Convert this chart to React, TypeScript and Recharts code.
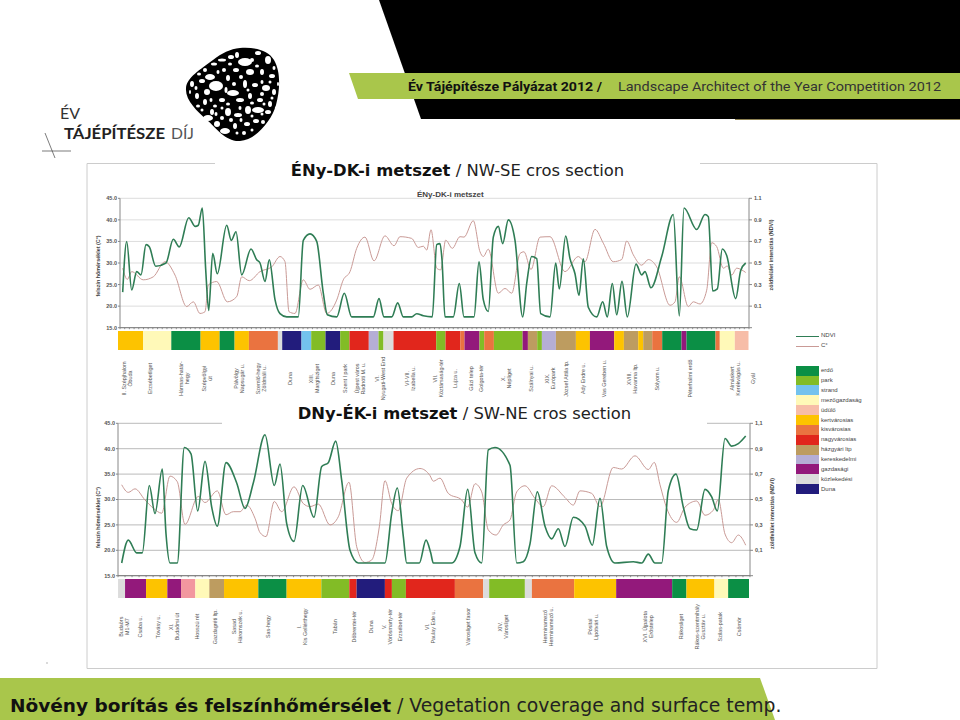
import { LineChart, Line, XAxis, YAxis, CartesianGrid, BarChart, Bar } from "recharts";

// section distance, value
const ndviNwSe: [number, number][] = [
  [2.7,0.23],[6.7,0.7],[11.7,0.25],[16.7,0.42],[21,0.39],[26,0.67],[29.3,0.65],[35.7,0.47],[46,0.5],[53.3,0.72],
  [59.3,0.65],[68.7,0.92],[75.3,0.84],[78.3,0.85],[82.3,1.01],[85.7,0.44],[88.7,0.06],[92.7,0.59],[97.3,0.4],[106.7,0.85],
  [111.3,0.71],[116,0.79],[121.7,0.39],[131,0.63],[136.7,0.53],[140,0.5],[145,0.33],[149.3,0.53],[155,0.16],[160,0.03],
  [166.7,0],[178.3,0],[183.3,0.71],[190,0.77],[196.7,0.7],[203.3,0.22],[207.3,0.02],[216.7,0],[224.3,0.22],[231.7,0],
  [253.3,0],[259,0.17],[264,0],[271.7,0],[277.7,0.13],[283.3,0],[291.7,0],[296.7,0.03],[303.3,0.01],[312.3,0],
  [316.7,0.67],[320,0.68],[322,0.53],[325,0],[333.3,0],[339.3,0.31],[344,0],[354,0],[359,0.51],[363.3,0.16],
  [368.3,0.05],[373.3,0.74],[378.3,0.84],[382.7,0.68],[388.3,0.9],[395,0.71],[402.7,0],[406.7,0.31],[411.7,0.56],[416.7,0.54],
  [420.7,0.03],[430,0],[435.7,0.5],[439.3,0.26],[445.7,0.75],[450,0.54],[455,0.4],[459,0.2],[463.3,0.54],[468.3,0.09],
  [476.7,0],[482.7,0.14],[487.3,0],[492.3,0.31],[496.7,0.02],[502,0.33],[507.3,0],[516,0.49],[521.7,0.39],[525,0.42],
  [531,0.27],[541.7,0.56],[553.3,0.95],[559.3,0.01],[564,1.01],[576.7,0.81],[585,0.95],[588.3,0.93],[592.7,0.24],[597.3,0.26],
  [602.3,0.63],[606.7,0.57],[615.7,0.17],[620.7,0.43],[625.7,0.5],
];
const tempNwSe: [number, number][] = [
  [2.7,28.8],[7.3,26.2],[11.7,28],[23.3,26.1],[33.3,26.8],[45,30.3],[55,27.2],[66.7,19.9],[73.3,21],[80,18.3],
  [85,18.7],[88.3,24.9],[96.7,25.7],[107.3,21],[116.7,22.2],[121.7,26.8],[129.3,25.9],[140,28],[151.7,29.1],[160,31.5],
  [165,30.3],[169,18.7],[175,18.3],[183.3,26.1],[190,23.9],[198.3,24.9],[206.7,18.3],[216.7,21.4],[223.3,26.1],[230,28],
  [236.7,33.4],[245,36],[254,30.5],[265,36.3],[274,34],[280,36.1],[291.7,35.7],[298.3,33.6],[303.3,33.9],[306.7,33],
  [311,37.7],[316.7,28.8],[320.7,28.4],[325.7,35.3],[332.3,33.4],[340,36.1],[344,36],[353.3,39.8],[360,32.6],[363.3,31.5],
  [368.3,33.2],[378.3,23],[385,24.1],[391.7,23],[400,32.2],[404,32.6],[411,28.5],[420,36],[430,36.1],[445,28],
  [458.3,31.5],[465,30.3],[475,37.8],[483.3,34.6],[493.3,30.3],[501.7,30.8],[506.7,35.1],[513.3,31.9],[521.7,29.5],[528.3,30.8],
  [536.7,29.1],[550,20.2],[555,21],[559.3,26.8],[568.3,19.9],[573.3,21],[580,20.5],[586.7,23.7],[591.7,34.7],[596.7,33.8],
  [603.3,28.8],[607.3,29.3],[611.7,27.2],[616.7,28.8],[621.7,28.4],[625.7,27.8],
];
const ndviSwNe: [number, number][] = [
  [3.7,0],[10.3,0.18],[18.7,0.08],[24.3,0.08],[31.3,0.61],[37,0.39],[44.3,0.74],[48,0.23],[52,0],[59.3,0],
  [66.3,0.91],[73,0.86],[79.7,0.41],[87,0.8],[93.7,0.44],[99.3,0.29],[108,0.79],[118.7,0.63],[127,0.43],[135.3,0.63],
  [147,1.01],[156.3,0.61],[162,0.78],[168.7,0.31],[176,0.17],[184.7,0.61],[196,0.36],[203.7,0.76],[210.3,0.79],[217.7,0.96],
  [223.7,0.65],[232,0.1],[240.3,0],[260.3,0],[267,0],[273.7,0.39],[279.3,0.59],[285.3,0.21],[288.7,0],[293.7,0],
  [301.3,0],[308,0.18],[312.7,0.08],[315.3,0],[322,0],[333.7,0],[342,0.13],[349.7,0.58],[357,0.08],[363.7,0],
  [370.3,0.89],[377,0.91],[392,0.77],[398.7,0],[405.3,0.01],[412,0.15],[419.3,0.56],[427,0.29],[433.7,0.19],[440.3,0.27],
  [447,0.13],[455.3,0.36],[467,0.29],[474.3,0.14],[482,0.51],[488.7,0.13],[497,0],[515.3,0.01],[523.7,0],[530.3,0.07],
  [537,0],[543.7,0],[550.3,0.57],[558,0.7],[565.3,0.44],[572,0.27],[578.7,0.26],[587,0.58],[593.7,0.52],[599.3,0.41],
  [607,0.98],[613.7,0.92],[620.3,0.94],[627.7,1],
];
const tempSwNe: [number, number][] = [
  [3.7,32.9],[10.3,31.4],[17,32.1],[27,29.9],[35.3,28.3],[43.7,27.3],[52,34.6],[59.3,33.5],[67,25.1],[80.3,30.6],
  [87,29.4],[99.3,31.7],[108,27],[115.3,27.6],[122,27.6],[128.7,28.9],[137,26.3],[142,23.5],[148,22.7],[156.3,29.6],
  [163.7,27.6],[176,32.5],[185.3,29.2],[192,28.6],[200.3,29.1],[212,25],[220.3,26.6],[231,33.4],[238.7,20.7],[247,17.6],
  [253.7,18.1],[261.3,24.6],[267,33.7],[273.7,29.2],[280.3,27.8],[288.7,34.2],[302,36.1],[312,34.7],[315.3,33.6],[322,34.2],
  [330.3,31.2],[343.7,29.9],[349.7,28.5],[357,33.1],[363.7,31.5],[370.3,24],[378,23],[385.3,25],[392,26],[398.7,31.5],
  [407,32.7],[417,30.2],[425.3,28.6],[433.7,32.7],[447,30.4],[455.3,28.9],[462,31.7],[473.7,31.2],[482,28.6],[495.3,36.3],
  [503.7,36],[517,38.6],[530.3,35.9],[536.3,37.3],[542,32.9],[548.7,28.3],[558.7,25.5],[567,28.5],[578.7,29.7],[587,26.9],
  [595.3,27.9],[600.3,30],[607,23.2],[613.7,21.5],[620.3,23],[627.7,21],
];

const placesNwSe: [number, string][] = [
  [7.7,"II. Szépjhalom\nÓbuda"],[30.7,"Erzsébetliget"],[64,"Hármas-határ-\nhegy"],[87.3,"Szépvölgyi\nút"],[119,"Pálvölgy\nNapsugár u."],
  [141.7,"Szemlő-hegy\nZöldmáli u."],[170.7,"Duna"],[194,"XIII.\nMargitsziget"],[213,"Duna"],[225.7,"Szent I park"],
  [240,"Újpest város\nRadnóti M. u."],[260.7,"VI.\nNyugati-West End"],[290,"VI-VII.\nIzabella u."],[318.3,"VII.\nKöztársaság-tér"],[335.7,"Lujza u."],
  [351,"Gázi telep"],[361.7,"Golgota-tér"],[386.7,"X.\nNépliget"],[411.7,"Szálnyai u."],[430,"XIX.\nEurópark"],
  [446.7,"József Attila tp."],[463.3,"Ady Endre u."],[484,"Vas Gereben u."],[512.7,"XVIII.\nHavanna ltp."],[537.3,"Sólyom u."],
  [570.7,"Péterhalmi erdő"],[615,"Almáskert\nKerékvágás u."],[633,"Gyál"],
];
const placesSwNe: [number, string][] = [
  [6,"Budaörs\nM1-M7"],[22,"Csaba u."],[40,"Tóvásy u."],[56.3,"XI.\nBudaőrsi út"],[78.7,"Hosszú rét"],
  [97,"Gazdagréti ltp."],[118.7,"Sasad\nHáromszék u."],[150.3,"Sas-hegy"],[183.7,"I.\nKis Gellérthegy"],[217,"Tabán"],
  [236.3,"Döbrentei-tér"],[253,"Duna"],[268.7,"V.\nVörösmarty-tér"],[282,"Erzsébet-tér"],[312,"VI.\nPaulay Ede u."],
  [349.7,"Városliget fasor"],[385.3,"XIV.\nVárosliget"],[429.7,"Herminamező\nHerminamező u."],[475.3,"Pósital\nLipótvári u."],[529.7,"XVI. Újpalota\nErőstelep"],
  [562.7,"Rákosliget"],[582,"Rákos-szentmihály\nGusztáv u."],[602,"Szilas-patak"],[621.3,"Csömör"],
];

const landUseNames = ["erdő","park","strand","mezőgazdaság","üdülő","kertvárosias","kisvárosias","nagyvárosias","házgyári ltp","kereskedelmi","gazdasági","közlekedési","Duna"];
// last colour only appears in the SW-NE strip, it has no legend row
const landUseColors = ["#0b8f45","#82bc26","#73c2ee","#fff9b8","#f7bda8","#fdc300","#ea7340","#e1261c","#bd9c60","#b5aed5","#93197b","#dcdcdc","#221c7c","#f2979f"];

const stripNwSeKinds = [5,3,0,5,0,5,6,11,12,2,1,12,1,7,9,1,11,7,1,7,6,10,1,6,1,10,8,1,9,8,5,10,5,8,5,8,6,0,10,0,6,3,4];
const stripNwSeLengths = [25,28.3,29.3,19,15,14.3,29,4.3,19.3,9.7,14.3,14.7,9.3,19.3,9.7,5,10,42.7,9.3,14.7,4.3,15,4.7,9.7,28.7,5.3,9.3,4.7,14,20,14,24.3,9.7,14.3,5,9,10,19.3,5,29,4.3,15,13.7];
const stripSwNeKinds = [11,10,5,10,13,3,8,5,0,5,1,7,12,7,1,7,6,11,1,11,6,5,10,0,5,3,0];
const stripSwNeLengths = [7,21,21.3,13.7,14.3,14,14.7,34.3,28.3,34.7,28,7.3,28.3,7,14,49,28.3,6,35.7,7,42.3,42,56,14.3,28,13.7,21];

const tempTicks = [15,20,25,30,35,40,45];
const ndviTicks = [-0.1,0.1,0.3,0.5,0.7,0.9,1.1];

const SANS = "'Liberation Sans', Arial, sans-serif";
const DEJAVU = "'DejaVu Sans', Verdana, sans-serif";

// blob holes of the logo: cx, cy, rx, ry
const logoHoles = [
  [245,62,7,4],[231,57,3,2],[258,53,3,2],[268,60,3,4],[222,60,4,1.5],[214,64,3,1.5],[236,70,3,2],[250,72,4,3],[262,72,2,3],[272,76,3,2],
  [210,77,5,3],[202,81,3,2],[192,84,2,3],[216,86,7,5],[207,92,3,3],[228,78,2,3],[233,93,6,3],[245,84,2,4],[255,85,3,2],[266,88,4,3],
  [274,92,2,3],[197,96,2,3],[205,102,2,3],[222,100,3,2],[240,100,4,2],[250,96,2,3],[260,100,3,2],[270,104,2,3],[212,112,2,3],[228,112,3,4],
  [238,115,4,2],[248,110,3,4],[258,110,6,3],[268,112,3,2],[208,118,5,3],[217,124,3,3],[225,131,5,3],[235,126,2,3],[247,124,3,2],[256,121,3,2],
  [263,122,2,2],[244,133,2,2],[222,118,2,2],[237,55,2,3],[252,60,2,2],[205,70,2,2],[224,70,2,2],[278,84,1,2],[190,92,1,2],[198,106,2,1.5],
  [241,77,2,2],[257,66,2,1.5],[230,64,2,1.5],[218,72,1.5,2],[199,74,2,1.5],[211,100,1.5,2],[228,104,2,1.5],[215,106,2,1.5],[234,84,2,2],[226,90,1.5,3],
  [252,103,2,1.5],[262,94,2,2],[272,98,1.5,1.5],[240,108,1.5,2],[262,82,1.5,2],[274,68,1.5,2],[202,110,1.5,1.5],[222,108,1.5,1.5],[264,104,1.5,1.5],[231,120,2,2],
  [241,120,1.5,2],[252,116,1.5,1.5],[216,114,1.5,2],[196,88,1.5,2],[252,130,1.5,1.5],[237,133,1.5,1.5],[270,82,1.5,1.5],[248,90,1.5,1.5],[276,108,1.2,1.5],[262,114,1.5,1.5],
];

const toPoints = (rows: [number, number][]) => rows.map(([pos, v]) => ({ pos, v }));

const SectionTick = (props: any) => {
  const { x, y, payload, labels, centerDy } = props;
  const label = labels[payload.value];
  if (label === undefined) {
    return <line x1={x} y1={y} x2={x} y2={y + 1.5} stroke="#777" strokeWidth={0.8} />;
  }
  const lines = String(label).split("\n");
  const cy = y + centerDy;
  return (
    <text transform={`rotate(-90 ${x} ${cy})`} textAnchor="middle" fontFamily={SANS} fontSize={5.4} fill="#555">
      {lines.map((line, i) => (
        <tspan key={i} x={x} y={cy + 1.8 + (i - (lines.length - 1) / 2) * 6}>
          {line}
        </tspan>
      ))}
    </text>
  );
};

const Section = ({ ndvi, temp, places, left, top, width, height, plotTop, plotHeight, axisLeft, axisRight, length, gridColor, stepCount, comma, centerDy, tempLabelDy, ndviLabelDy, tempLabelDx, ndviLabelDx }: any) => {
  const labels: Record<number, string> = {};
  places.forEach(([p, t]: [number, string]) => (labels[p] = t));
  const stepTicks = Array.from({ length: stepCount + 1 }, (_, i) => (i * length) / stepCount);
  const ticks = [...stepTicks, ...places.map((p: [number, string]) => p[0])].sort((a, b) => a - b);
  const tickStyle = { fontSize: 5.5, fill: "#555", fontWeight: 700, fontFamily: SANS };
  const titleStyle = { fontSize: 5.4, fontWeight: 700, fill: "#444", fontFamily: SANS, textAnchor: "middle" };
  return (
    <div style={{ position: "absolute", left, top }}>
      <LineChart width={width} height={height} margin={{ top: plotTop, right: 0, bottom: 0, left: 0 }}>
        <CartesianGrid vertical={false} stroke={gridColor} yAxisId="temp" xAxisId="pos" />
        <XAxis
          xAxisId="pos"
          type="number"
          dataKey="pos"
          domain={[0, length]}
          ticks={ticks}
          interval={0}
          tickLine={false}
          tickSize={0}
          tickMargin={0}
          height={height - plotTop - plotHeight}
          stroke="#777"
          tick={<SectionTick labels={labels} centerDy={centerDy} />}
          allowDataOverflow
        />
        <YAxis
          yAxisId="temp"
          width={axisLeft}
          domain={[15, 45]}
          ticks={tempTicks}
          interval={0}
          tick={tickStyle}
          tickSize={2}
          tickMargin={1}
          stroke="#888"
          tickFormatter={(v: number) => v.toFixed(1)}
          label={{ value: "felszín hőmérséklet (C°)", angle: -90, position: "insideLeft", dx: tempLabelDx, dy: tempLabelDy, style: titleStyle }}
        />
        <YAxis
          yAxisId="ndvi"
          orientation="right"
          width={axisRight}
          domain={[-0.1, 1.1]}
          ticks={ndviTicks}
          interval={0}
          tick={tickStyle}
          tickSize={3}
          tickMargin={2}
          stroke="#888"
          tickFormatter={(v: number) => (v < 0 ? "" : comma ? v.toFixed(1).replace(".", ",") : v.toFixed(1))}
          label={{ value: "zöldfelület intenzitás (NDVI)", angle: -90, position: "insideRight", dx: ndviLabelDx, dy: ndviLabelDy, style: titleStyle }}
        />
        <Line data={toPoints(temp)} xAxisId="pos" yAxisId="temp" dataKey="v" type="monotone" stroke="#c99a96" strokeWidth={1} dot={false} isAnimationActive={false} />
        <Line data={toPoints(ndvi)} xAxisId="pos" yAxisId="ndvi" dataKey="v" type="monotone" stroke="#2f7d55" strokeWidth={1.6} dot={false} isAnimationActive={false} />
      </LineChart>
    </div>
  );
};

const LandUseStrip = ({ kinds, lengths, left, top, height }: any) => {
  const row: Record<string, number | string> = { row: "strip" };
  lengths.forEach((w: number, i: number) => (row[`s${i}`] = w));
  const total = lengths.reduce((a: number, b: number) => a + b, 0);
  return (
    <div style={{ position: "absolute", left, top }}>
      <BarChart width={total} height={height} data={[row]} layout="vertical" barCategoryGap={0} margin={{ top: 0, right: 0, bottom: 0, left: 0 }}>
        <XAxis type="number" hide domain={[0, total]} />
        <YAxis type="category" hide dataKey="row" />
        {lengths.map((_: number, i: number) => (
          <Bar key={i} dataKey={`s${i}`} stackId="a" fill={landUseColors[kinds[i]]} isAnimationActive={false} />
        ))}
      </BarChart>
    </div>
  );
};

const Title = ({ bold, rest, left, top }: any) => (
  <div style={{ position: "absolute", left, width: 485, top, height: 21, background: "#fff", textAlign: "center", fontFamily: DEJAVU, fontSize: 16.4, lineHeight: "21px", color: "#222", whiteSpace: "nowrap" }}>
    <b style={{ color: "#111" }}>{bold}</b> / {rest}
  </div>
);

export default function App() {
  return (
    <div style={{ position: "absolute", left: 0, top: 0, width: 960, height: 720, background: "#fff", overflow: "hidden" }}>
      <svg width={960} height={720} style={{ position: "absolute", left: 0, top: 0 }}>
        <polygon points="379,0 960,0 960,119 421,119" fill="#000" />
        <polygon points="349,73 960,73 960,99 358,99" fill="#a9c64b" />
        <line x1={735} y1={119.5} x2={960} y2={119.5} stroke="#8d8152" strokeWidth={1} />
        <text x={408} y={91} fontFamily="Roboto, sans-serif" fontWeight={700} fontSize={13} fill="#111" textLength={194} lengthAdjust="spacingAndGlyphs">Év Tájépítésze Pályázat 2012 /</text>
        <text x={618} y={91} fontFamily="Roboto, sans-serif" fontSize={13} fill="#333" textLength={323} lengthAdjust="spacingAndGlyphs">Landscape Architect of the Year Competition 2012</text>

        <path d="M240 48 C255 47 268 50 274 60 C281 72 280 90 276 105 C272 120 256 140 240 141 C226 142 216 128 207 120 C197 111 185 100 186 88 C187 77 200 70 213 60 C222 53 230 49 240 48 Z" fill="#000" />
        {logoHoles.map(([cx, cy, rx, ry], i) => (
          <ellipse key={i} cx={cx} cy={cy} rx={rx} ry={ry} fill="#fff" />
        ))}
        <text x={60} y={119} fontFamily="Lato, sans-serif" fontSize={16} fill="#333">ÉV</text>
        <text x={64} y={139} fontFamily="Lato, sans-serif" fontWeight={700} fontSize={15} fill="#222" textLength={101} lengthAdjust="spacingAndGlyphs">TÁJÉPÍTÉSZE</text>
        <text x={171} y={139} fontFamily="Lato, sans-serif" fontSize={15} fill="#555" textLength={23} lengthAdjust="spacingAndGlyphs">DÍJ</text>
        <line x1={45} y1={133} x2={55} y2={158} stroke="#444" strokeWidth={0.7} />
        <line x1={42} y1={151} x2={71} y2={151} stroke="#444" strokeWidth={0.7} />

        <polyline points="215,163.5 87,163.5 87,668.5 877,668.5 877,163.5 700,163.5" fill="none" stroke="#ccc" strokeWidth={1} />
        <circle cx={47} cy={663} r={0.7} fill="#999" />

        <polygon points="0,678 760,678 775,720 0,720" fill="#a9c64b" />
        <text x={10} y={712} fontFamily={DEJAVU} fontSize={18.8} fill="#222">
          <tspan fontWeight={700} fontSize={18.5} fill="#111">Növény borítás és felszínhőmérsélet</tspan> / Vegetation coverage and surface temp.
        </text>
      </svg>

      <Section
        ndvi={ndviNwSe}
        temp={tempNwSe}
        places={placesNwSe}
        left={86}
        top={190}
        width={700}
        height={215}
        plotTop={8.3}
        plotHeight={129.4}
        axisLeft={34}
        axisRight={37}
        length={629}
        gridColor="#ddd"
        stepCount={134}
        centerDy={50.8}
        tempLabelDx={7}
        tempLabelDy={3}
        ndviLabelDx={-10}
        ndviLabelDy={-8}
      />
      <LandUseStrip kinds={stripNwSeKinds} lengths={stripNwSeLengths} left={118.3} top={331} height={19} />
      <div style={{ position: "absolute", left: 417, top: 190, fontFamily: SANS, fontSize: 8, fontWeight: 700, color: "#444", whiteSpace: "nowrap" }}>ÉNy-DK-i metszet</div>

      <Section
        ndvi={ndviSwNe}
        temp={tempSwNe}
        places={placesSwNe}
        left={86}
        top={415}
        width={700}
        height={235}
        plotTop={8.3}
        plotHeight={152.4}
        axisLeft={32}
        axisRight={36}
        length={632}
        gridColor="#bbb"
        stepCount={90}
        comma
        centerDy={51}
        tempLabelDx={7}
        tempLabelDy={18}
        ndviLabelDx={-9}
        ndviLabelDy={14}
      />
      <LandUseStrip kinds={stripSwNeKinds} lengths={stripSwNeLengths} left={118} top={578.7} height={19.3} />

      <Title bold="ÉNy-DK-i metszet" rest="NW-SE cros section" left={215} top={160} />
      <Title bold="DNy-ÉK-i metszet" rest="SW-NE cros section" left={222} top={403} />

      <div style={{ position: "absolute", left: 796, top: 335.5, width: 23, height: 1.5, background: "#2f7d55" }} />
      <div style={{ position: "absolute", left: 796, top: 345.5, width: 23, height: 1, background: "#c99a96" }} />
      <div style={{ position: "absolute", left: 821, top: 332, fontFamily: SANS, fontSize: 6, color: "#444" }}>NDVI</div>
      <div style={{ position: "absolute", left: 821, top: 342, fontFamily: SANS, fontSize: 6, color: "#444" }}>C°</div>
      {landUseNames.map((name, i) => (
        <div key={name} style={{ position: "absolute", left: 796, top: 365.7 + i * 9.87, height: 9.87, whiteSpace: "nowrap" }}>
          <div style={{ position: "absolute", left: 0, top: 0, width: 23, height: 9.87, background: landUseColors[i] }} />
          <div style={{ position: "absolute", left: 25, top: 1.5, fontFamily: SANS, fontSize: 6, color: "#444" }}>{name}</div>
        </div>
      ))}
    </div>
  );
}
